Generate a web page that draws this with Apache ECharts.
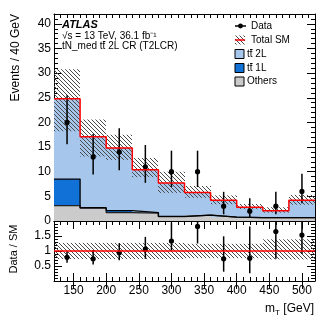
<!DOCTYPE html>
<html>
<head>
<meta charset="utf-8">
<script src="https://cdn.jsdelivr.net/npm/echarts@6/dist/echarts.min.js"></script>
<style>
html,body{margin:0;padding:0;background:#fff;}
#main{width:332px;height:322px;}
</style>
</head>
<body>
<div id="main"></div>
<script>
// bin edges (GeV), 40 GeV bins
var edges = [120, 160, 200, 240, 280, 320, 360, 400, 440, 480, 520];
var centers = [140, 180, 220, 260, 300, 340, 380, 420, 460, 500];

// stacked backgrounds
var others = [3.1, 2.6, 1.7, 1.6, 0.9, 1.2, 0.8, 0.7, 0.7, 0.7];
var ttbar1L = [5.4, 0.1, 0.4, 0.1, 0.05, 0, 0, 0, 0, 0];
var ttbar2L = [16.3, 14.4, 12.7, 8.7, 6.75, 4.6, 3.4, 2.1, 1.4, 3.5];

// total SM and its uncertainty band
var totalSM = [24.8, 17.1, 14.8, 10.4, 7.7, 5.8, 4.2, 2.8, 2.1, 4.2];
var bandLo = [18.2, 13.1, 12.4, 8.9, 5.7, 4.7, 3.4, 2.4, 1.7, 3.3];
var bandHi = [30.8, 20.6, 17.5, 12.8, 10.0, 7.1, 5.2, 3.45, 2.8, 5.3];

// data with errors
var dataY = [20, 13, 14, 11, 10, 10, 3, 2, 3, 6];
var dataLo = [15.57, 9.44, 10.31, 7.74, 6.89, 6.89, 1.37, 0.71, 1.37, 3.62];
var dataHi = [25.53, 17.67, 18.80, 15.42, 14.27, 14.27, 5.92, 4.64, 5.92, 9.58];

// Data / SM
var ratio = [0.79, 0.74, 0.94, 1.06, 1.33, 1.82, 0.74, 0.76, 1.65, 1.53];
var ratioLo = [0.61, 0.55, 0.69, 0.74, 1.01, 1.25, 0.31, 0.26, 0.74, 0.90];
var ratioHi = [0.98, 1.03, 1.26, 1.47, 1.95, 2.5, 1.49, 1.82, 2.5, 2.5];
var ratioBandLo = [0.73, 0.73, 0.73, 0.73, 0.73, 0.76, 0.76, 0.76, 0.72, 0.72];
var ratioBandHi = [1.27, 1.27, 1.27, 1.27, 1.27, 1.24, 1.24, 1.24, 1.39, 1.39];

// tick labels
var xMajor = [150, 200, 250, 300, 350, 400, 450, 500];
var yMajorTop = [0, 5, 10, 15, 20, 25, 30, 35, 40];
var yMajorRatio = [0.5, 1, 1.5];

var FONT = '"Liberation Sans", Arial, Helvetica, sans-serif';

/* hatch pattern */
var hatchCanvas = document.createElement('canvas');
hatchCanvas.width = 4;
hatchCanvas.height = 4;
var hctx = hatchCanvas.getContext('2d');
hctx.strokeStyle = '#4a4a4a';
hctx.lineWidth = 1;
hctx.beginPath();
hctx.moveTo(-1, -1);
hctx.lineTo(5, 5);
hctx.stroke();
var hatch = {image: hatchCanvas, repeat: 'repeat'};

/* axis set: minor ticks + major ticks, both sides */
function axisSet(dim, grid, min, max, step, majors, labels, posA, posB) {
    var list = [];
    [posA, posB].forEach(function (pos, k) {
        var base = {
            gridIndex: grid, type: 'value', min: min, max: max, interval: step, position: pos,
            splitLine: {show: false}
        };
        // minor ticks + frame line
        list.push(Object.assign({}, base, {
            axisLine: {show: true, onZero: false, lineStyle: {color: '#000', width: 1}},
            axisTick: {show: true, inside: true, length: 4, lineStyle: {color: '#000', width: 1}},
            axisLabel: k === 0 && labels ? {
                show: true, customValues: labels, color: '#000', fontSize: 12, fontFamily: FONT,
                margin: dim === 'x' ? 4 : 3
            } : {show: false}
        }));
        // major ticks
        list.push(Object.assign({}, base, {
            axisLine: {show: false},
            axisTick: {show: true, inside: true, length: 8, customValues: majors, lineStyle: {color: '#000', width: 1}},
            axisLabel: {show: false}
        }));
    });
    return list;
}

/* step fill per bin */
function fillItem(color) {
    return function (params, api) {
        var p0 = api.coord([api.value(0), api.value(3)]);
        var p1 = api.coord([api.value(1), api.value(2)]);
        var x0 = Math.round(p0[0]), x1 = Math.round(p1[0]);
        return {
            type: 'rect',
            shape: {x: x0, y: p0[1], width: x1 - x0, height: p1[1] - p0[1]},
            style: {fill: color}
        };
    };
}

/* points with vertical error bars */
function errorItem(params, api) {
    var x = api.value(0);
    var p = api.coord([x, api.value(1)]);
    var pLo = api.coord([x, api.value(2)]);
    var pHi = api.coord([x, api.value(3)]);
    return {
        type: 'group',
        children: [
            {type: 'line', shape: {x1: p[0], y1: pLo[1], x2: p[0], y2: pHi[1]}, style: {stroke: '#000', lineWidth: 1.5}},
            {type: 'circle', shape: {cx: p[0], cy: p[1], r: 2.6}, style: {fill: '#000'}}
        ]
    };
}

function stepLine(vals, base) {
    var pts = [];
    for (var i = 0; i < vals.length; i++) {
        pts.push([edges[i], vals[i] + (base ? base[i] : 0)]);
    }
    pts.push([edges[edges.length - 1], pts[pts.length - 1][1]]);
    return pts;
}

/* text with a bar over the 2nd "t" of "tt" */
var measureCtx = document.createElement('canvas').getContext('2d');
function ttText(x, y, before, after, size) {
    measureCtx.font = size + 'px ' + FONT;
    var a = measureCtx.measureText(before + 't').width;
    var b = measureCtx.measureText(before + 'tt').width;
    var yb = Math.round(y - size * 0.55) + 0.5;
    return [
        {type: 'text', x: x, y: y, style: {text: before + 'tt' + after, font: size + 'px ' + FONT, fill: '#000', textVerticalAlign: 'middle'}},
        {type: 'line', shape: {x1: x + a + 0.3, y1: yb, x2: x + b, y2: yb}, style: {stroke: '#000', lineWidth: 1}}
    ];
}

// stack levels
var lvl1 = [], lvl2 = [], lvl3 = [];
var fillOthers = [], fill1L = [], fill2L = [], band = [], rband = [];
var pts = [], rpts = [];
for (var i = 0; i < centers.length; i++) {
    lvl1.push(others[i]);
    lvl2.push(others[i] + ttbar1L[i]);
    lvl3.push(others[i] + ttbar1L[i] + ttbar2L[i]);
    fillOthers.push([edges[i], edges[i + 1], 0, lvl1[i]]);
    fill1L.push([edges[i], edges[i + 1], lvl1[i], lvl2[i]]);
    fill2L.push([edges[i], edges[i + 1], lvl2[i], lvl3[i]]);
    band.push([edges[i], edges[i + 1], bandLo[i], bandHi[i]]);
    rband.push([edges[i], edges[i + 1], ratioBandLo[i], ratioBandHi[i]]);
    pts.push([centers[i], dataY[i], dataLo[i], dataHi[i]]);
    rpts.push([centers[i], ratio[i], ratioLo[i], ratioHi[i]]);
}

var xAxes = axisSet('x', 0, 120, 520, 10, xMajor, null, 'bottom', 'top')
    .concat(axisSet('x', 1, 120, 520, 10, xMajor, xMajor, 'bottom', 'top'));
var yAxes = axisSet('y', 0, 0, 42, 1, yMajorTop, yMajorTop, 'left', 'right')
    .concat(axisSet('y', 1, 0, 2, 0.1, yMajorRatio, yMajorRatio, 'left', 'right'));

var chart = echarts.init(document.getElementById('main'), null, {renderer: 'canvas'});

var legendRows = [26, 40, 54, 68, 81.5];
var LX = 235;

var graphics = [
    // axis titles
    {type: 'text', x: 16, y: 14, rotation: Math.PI / 2,
        style: {text: 'Events / 40 GeV', font: '12px ' + FONT, fill: '#000', textAlign: 'right', textVerticalAlign: 'middle'}},
    {type: 'text', x: 14, y: 249, rotation: Math.PI / 2,
        style: {text: 'Data / SM', font: '11px ' + FONT, fill: '#000', textAlign: 'center', textVerticalAlign: 'middle'}},
    {type: 'text', x: 314, y: 309,
        style: {text: '{a|m}{b|T}{a| [GeV]}', fill: '#000', textAlign: 'right', textVerticalAlign: 'middle',
            rich: {a: {fontSize: 12, fontFamily: FONT}, b: {fontSize: 8, fontFamily: FONT, padding: [7, 0, 0, 0]}}}},
    // ATLAS label
    {type: 'text', x: 62, y: 25,
        style: {text: 'ATLAS', font: 'italic bold 11px ' + FONT, fill: '#000', textVerticalAlign: 'middle'}},
    {type: 'text', x: 62, y: 36,
        style: {text: '√s = 13 TeV, 36.1 fb⁻¹', font: '10px ' + FONT, fill: '#000', textVerticalAlign: 'middle'}},
    // legend symbols
    {type: 'line', shape: {x1: LX, y1: legendRows[0], x2: LX + 11, y2: legendRows[0]}, style: {stroke: '#000', lineWidth: 1.5}},
    {type: 'circle', shape: {cx: LX + 5.5, cy: legendRows[0], r: 2.4}, style: {fill: '#000'}},
    {type: 'rect', shape: {x: LX, y: legendRows[1] - 4.5, width: 10, height: 9}, style: {fill: hatch}},
    {type: 'line', shape: {x1: LX, y1: legendRows[1], x2: LX + 10, y2: legendRows[1]}, style: {stroke: '#ff0000', lineWidth: 1.5}},
    {type: 'rect', shape: {x: LX, y: legendRows[2] - 4.5, width: 9, height: 9}, style: {fill: '#a6c6eb', stroke: '#000', lineWidth: 1}},
    {type: 'rect', shape: {x: LX, y: legendRows[3] - 4.5, width: 9, height: 9}, style: {fill: '#1271d6', stroke: '#000', lineWidth: 1}},
    {type: 'rect', shape: {x: LX, y: legendRows[4] - 4.5, width: 9, height: 9}, style: {fill: '#cbcbcb', stroke: '#000', lineWidth: 1}},
    {type: 'text', x: 251, y: legendRows[0], style: {text: 'Data', font: '10px ' + FONT, fill: '#000', textVerticalAlign: 'middle'}},
    {type: 'text', x: 251, y: legendRows[1], style: {text: 'Total SM', font: '10px ' + FONT, fill: '#000', textVerticalAlign: 'middle'}},
    {type: 'text', x: 247, y: legendRows[4], style: {text: 'Others', font: '10px ' + FONT, fill: '#000', textVerticalAlign: 'middle'}}
]
    .concat(ttText(62, 46, 'tN_med ', ' 2L CR (T2LCR)', 10))
    .concat(ttText(247, legendRows[2], '', ' 2L', 10))
    .concat(ttText(247, legendRows[3], '', ' 1L', 10));

chart.setOption({
    animation: false,
    backgroundColor: '#fff',
    grid: [
        {left: 54, top: 14, width: 261, height: 207},
        {left: 54, top: 221, width: 261, height: 60}
    ],
    xAxis: xAxes,
    yAxis: yAxes,
    series: [
        {type: 'custom', xAxisIndex: 0, yAxisIndex: 0, renderItem: fillItem('#cbcbcb'), data: fillOthers, clip: true},
        {type: 'custom', xAxisIndex: 0, yAxisIndex: 0, renderItem: fillItem('#1271d6'), data: fill1L, clip: true},
        {type: 'custom', xAxisIndex: 0, yAxisIndex: 0, renderItem: fillItem('#a6c6eb'), data: fill2L, clip: true},
        {type: 'line', xAxisIndex: 0, yAxisIndex: 0, step: 'end', symbol: 'none', data: stepLine(others),
            lineStyle: {color: '#222', width: 1.3}},
        {type: 'line', xAxisIndex: 0, yAxisIndex: 0, step: 'end', symbol: 'none', data: stepLine(ttbar1L, others),
            lineStyle: {color: '#000', width: 1.3}},
        {type: 'custom', xAxisIndex: 0, yAxisIndex: 0, renderItem: fillItem(hatch), data: band, clip: true},
        {type: 'line', xAxisIndex: 0, yAxisIndex: 0, step: 'end', symbol: 'none', data: stepLine(totalSM),
            lineStyle: {color: '#ff0000', width: 1.5}},
        {type: 'custom', xAxisIndex: 0, yAxisIndex: 0, renderItem: errorItem, data: pts, clip: true},

        {type: 'custom', xAxisIndex: 4, yAxisIndex: 4, renderItem: fillItem(hatch), data: rband, clip: true},
        {type: 'line', xAxisIndex: 4, yAxisIndex: 4, symbol: 'none', data: [[120, 1], [520, 1]],
            lineStyle: {color: '#ff0000', width: 1.5}},
        {type: 'custom', xAxisIndex: 4, yAxisIndex: 4, renderItem: errorItem, data: rpts, clip: true}
    ],
    graphic: graphics
});
</script>
</body>
</html>
